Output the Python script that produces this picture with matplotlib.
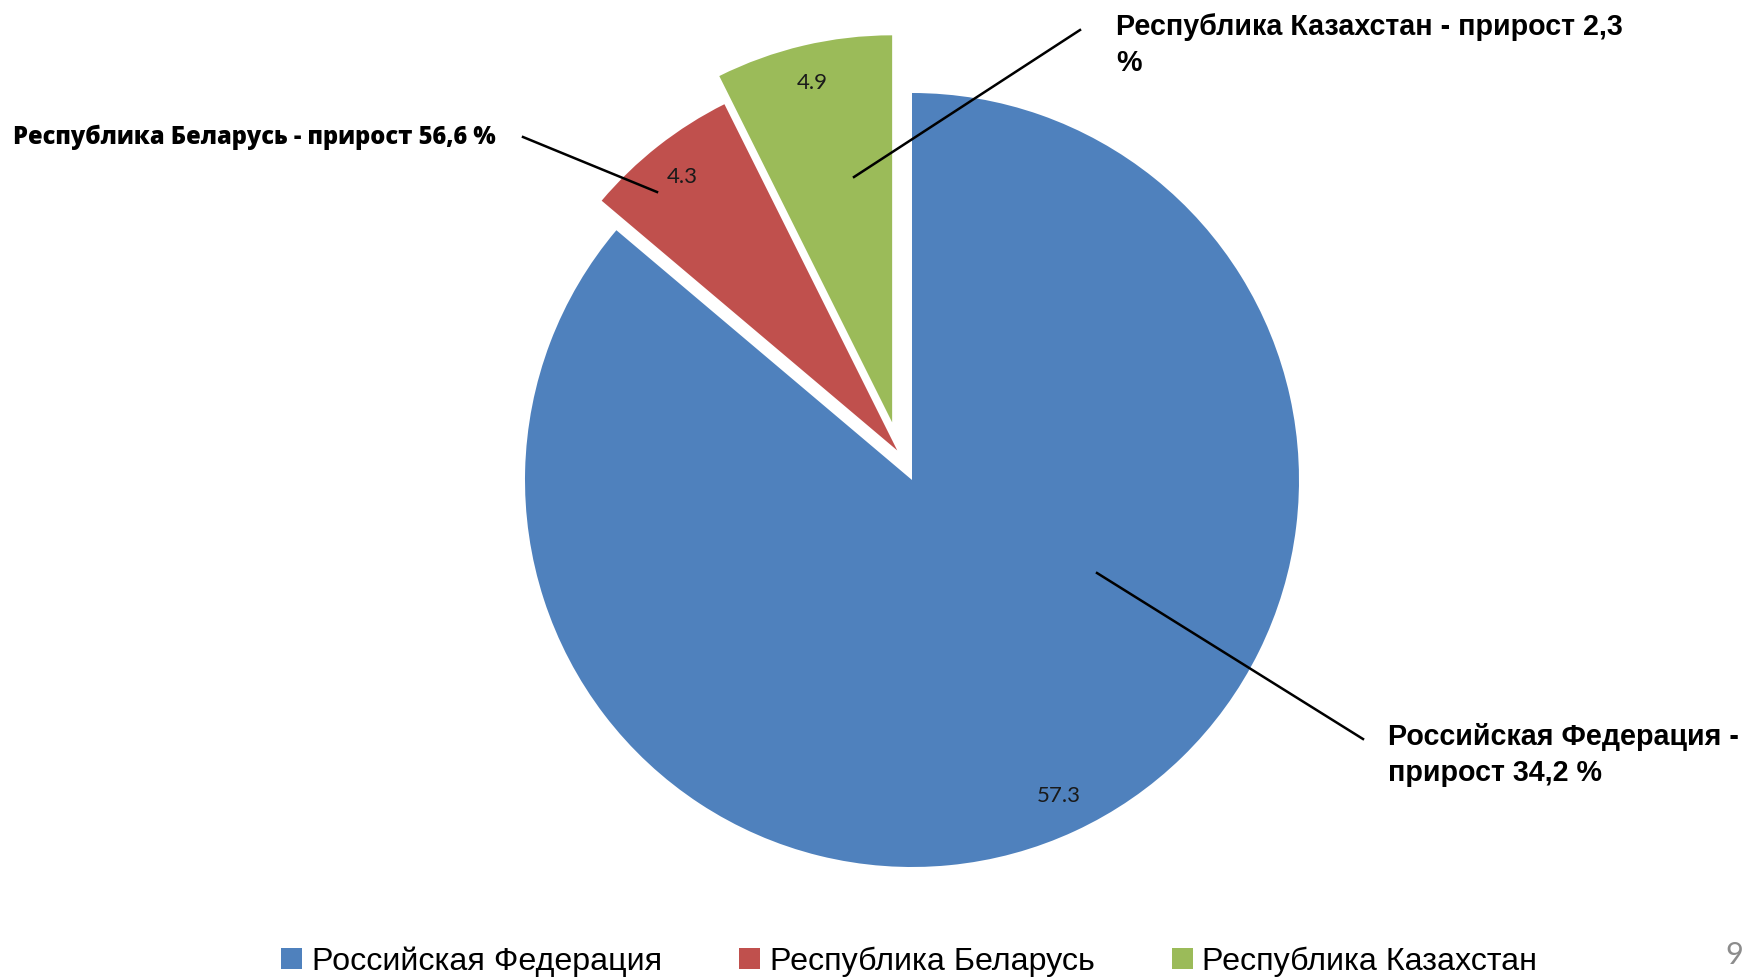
import matplotlib
matplotlib.use("Agg")
import matplotlib.pyplot as plt
import numpy as np

countries = ["Российская Федерация", "Республика Беларусь", "Республика Казахстан"]
values = [57.3, 4.3, 4.9]
growth = ["34,2", "56,6", "2,3"]
colors = ["#4F81BD", "#C0504D", "#9BBB59"]

W, H = 1755, 977
fig = plt.figure(figsize=(W / 100, H / 100), dpi=100)
ax = fig.add_axes([0, 0, 1, 1])


def px(x, y):
    # image pixel coords (y down) -> data coords (y up)
    return x, H - y


R = 387
center = px(912, 480)
total = sum(values)

wedges, texts, autotexts = ax.pie(
    values,
    colors=colors,
    startangle=90,
    counterclock=False,
    radius=R,
    center=center,
    autopct=lambda p: "{:.1f}".format(p * total / 100),
    pctdistance=0.9,
    wedgeprops=dict(linewidth=0),
    textprops=dict(fontsize=16, family=["Lato", "DejaVu Sans"], color="#1a1a1a"),
)

# slices pulled out of the pie (distance in px, direction in degrees)
shift_dist = [0, 33, 61]
shift_angle = [0, 116.5, 109]
for w, t, d, a in zip(wedges, autotexts, shift_dist, shift_angle):
    dx, dy = d * np.cos(np.radians(a)), d * np.sin(np.radians(a))
    w.set_center((center[0] + dx, center[1] + dy))
    x, y = t.get_position()
    t.set_position((x + dx, y + dy))

ax.set_xlim(0, W)
ax.set_ylim(0, H)
ax.axis("off")

lbl = dict(fontsize=20.6, fontweight="bold", family=["Liberation Sans", "DejaVu Sans"],
           color="black", linespacing=1.35)

# Belarus
x0, y0 = px(523, 137)
x1, y1 = px(657, 192)
ax.plot([x0, x1], [y0, y1], color="black", lw=1.8)
ax.text(*px(13, 137), "{} - прирост {} %".format(countries[1], growth[1]),
        ha="left", va="center", fontsize=17, fontweight=800,
        family=["Open Sans", "DejaVu Sans"])

# Kazakhstan
x0, y0 = px(1080, 30)
x1, y1 = px(854, 177)
ax.plot([x0, x1], [y0, y1], color="black", lw=1.8)
ax.text(*px(1116, 45), "{} - прирост {}\n%".format(countries[2], growth[2]),
        ha="left", va="center", **lbl)

# Russia
x0, y0 = px(1097, 573)
x1, y1 = px(1363, 739)
ax.plot([x0, x1], [y0, y1], color="black", lw=1.8)
ax.text(*px(1388, 755), "{} -\nприрост {} %".format(countries[0], growth[0]),
        ha="left", va="center", **lbl)

leg = ax.legend(wedges, countries, loc="center", bbox_to_anchor=(0.518, 0.016),
                bbox_transform=fig.transFigure, ncol=3, frameon=False,
                handlelength=0.65, handleheight=0.65, handletextpad=0.3,
                columnspacing=2.4,
                prop=dict(size=23.2, family=["Liberation Sans", "DejaVu Sans"]))

fig.text(1734 / W, (H - 955) / H, "9", fontsize=22, color="#8c8c8c",
         ha="center", va="center", family=["Lato", "DejaVu Sans"])

fig.savefig("out.png", dpi=100)
